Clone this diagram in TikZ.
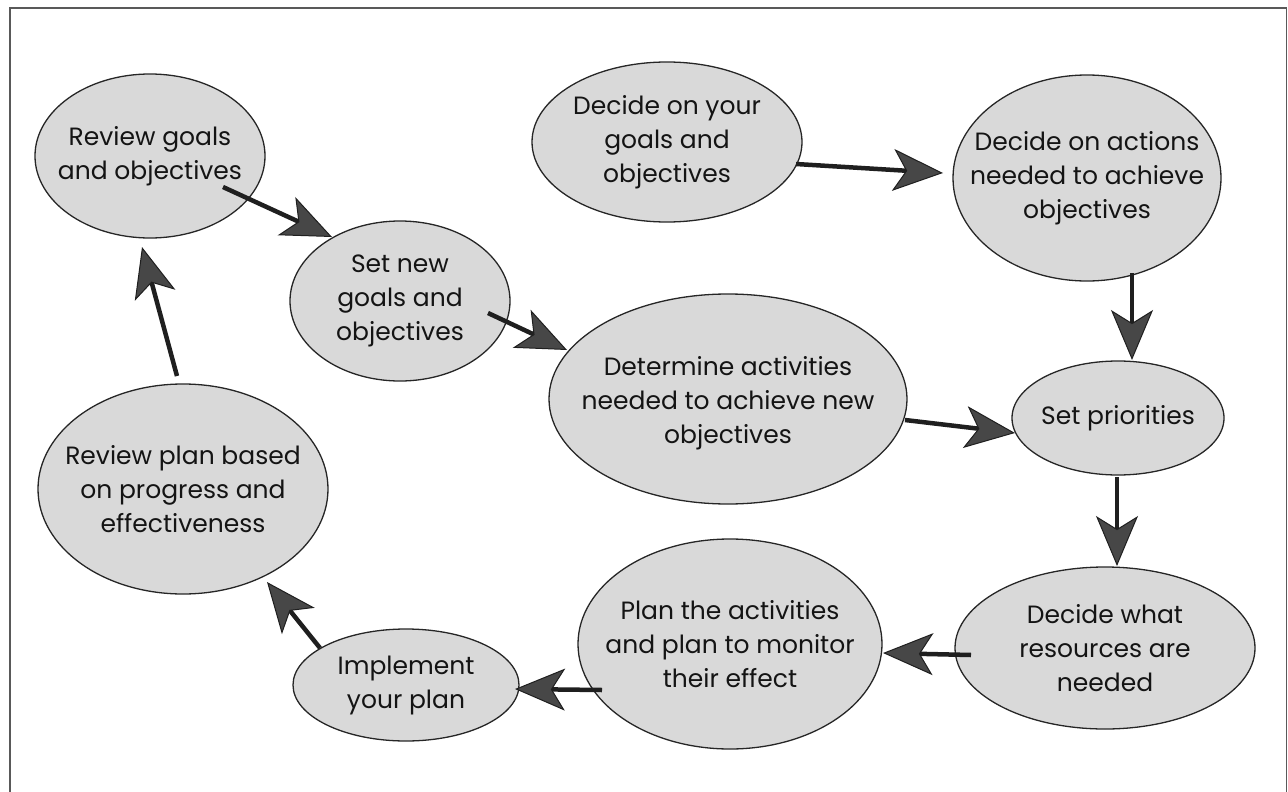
\documentclass[tikz,border=0pt]{standalone}
\usepackage{fontspec}
\setmainfont{Poppins}
\usetikzlibrary{arrows.meta,shapes.geometric}
\begin{document}
\begin{tikzpicture}[x=1pt,y=-1pt,
  bubble/.style={ellipse, draw=black!85, line width=1.3pt, fill=black!15, inner sep=0pt},
  caption/.style={align=center, font=\fontsize{25}{34}\selectfont, text=black!92, inner sep=0pt},
  flow/.style={draw=black!88, line width=4.5pt,
    -{Stealth[length=50pt, width=42pt, inset=13pt, line width=1pt, fill=black!72]}},
  frame/.style={draw=black!65, line width=1.6pt},
]
\useasboundingbox (0,0) rectangle (1288,792);
\clip (0,0) rectangle (1288,792);

% outer frame (open at the bottom)
\draw[frame] (10,800) -- (10,8) -- (1286.5,8) -- (1286.5,800);

% ellipses
\node[bubble, minimum width=230pt, minimum height=164pt] (rg) at (150,156) {};
\node[bubble, minimum width=270pt, minimum height=160pt] (dg) at (667,142) {};
\node[bubble, minimum width=268pt, minimum height=206pt] (da) at (1087,178) {};
\node[bubble, minimum width=220pt, minimum height=160pt] (sn) at (400,301) {};
\node[bubble, minimum width=358pt, minimum height=210pt] (dt) at (728,399) {};
\node[bubble, minimum width=212pt, minimum height=114pt] (sp) at (1118,418) {};
\node[bubble, minimum width=300pt, minimum height=162pt] (dr) at (1105,648) {};
\node[bubble, minimum width=304pt, minimum height=210pt] (pa) at (730,644) {};
\node[bubble, minimum width=226pt, minimum height=112pt] (im) at (406,685) {};
\node[bubble, minimum width=290pt, minimum height=210pt] (rp) at (183,489) {};

% texts
\node[caption] (rgt) at (rg) {Review goals\\and objectives};
\node[caption] (dgt) at (dg) {Decide on your\\goals and\\objectives};
\node[caption] (dat) at (da) {Decide on actions\\needed to achieve\\objectives};
\node[caption] (snt) at (sn) {Set new\\goals and\\objectives};
\node[caption] (dtt) at ([yshift=-4pt]dt.center) {Determine activities\\needed to achieve new\\objectives};
\node[caption] (spt) at (sp) {Set priorities};
\node[caption] (drt) at (dr) {Decide what\\resources are\\needed};
\node[caption] (pat) at (pa) {Plan the activities\\and plan to monitor\\their effect};
\node[caption] (imt) at (im) {Implement\\your plan};
\node[caption] (rpt) at (rp) {Review plan based\\on progress and\\effectiveness};

% connectors
\draw[flow] ([shift={(73,31)}]rg.center) -- ([shift={(-68,-64)}]sn.center);
\draw[flow] ([shift={(129,22)}]dg.center) -- ([shift={(-144,-5)}]da.center);
\draw[flow] ([shift={(45,95)}]da.center) -- ([shift={(14,-58)}]sp.center);
\draw[flow] ([shift={(88,12)}]sn.center) -- ([shift={(-161,-49)}]dt.center);
\draw[flow] ([shift={(177,21)}]dt.center) -- ([shift={(-103,15)}]sp.center);
\draw[flow] ([shift={(-1,59)}]sp.center) -- ([shift={(12,-82)}]dr.center);
\draw[flow] ([shift={(-134,7)}]dr.center) -- ([shift={(153,9)}]pa.center);
\draw[flow] ([shift={(-128,46)}]pa.center) -- ([shift={(109,4)}]im.center);
\draw[flow] ([shift={(-86,-37)}]im.center) -- ([shift={(84,93)}]rp.center);
\draw[flow] ([shift={(-6,-113)}]rp.center) -- ([shift={(-8,91)}]rg.center);
\end{tikzpicture}
\end{document}
